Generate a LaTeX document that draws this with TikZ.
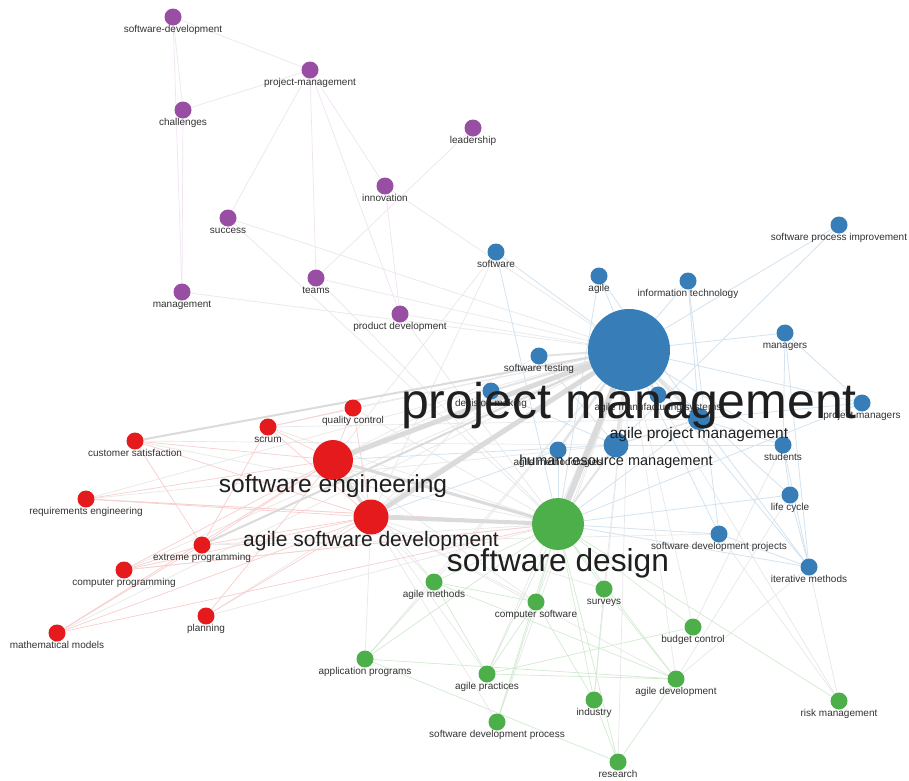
\documentclass[tikz,border=0pt]{standalone}
\usepackage{fontspec}
\setmainfont{Liberation Sans}
\definecolor{vred}{HTML}{E41A1C}
\definecolor{vblue}{HTML}{377EB8}
\definecolor{vgreen}{HTML}{4DAF4A}
\definecolor{vpurple}{HTML}{984EA3}
\pgfdeclarelayer{links}
\pgfsetlayers{links,main}
\tikzset{
  kw/.style = {circle, inner sep=0pt, minimum size=17pt},
  lbl/.style = {anchor=base, inner sep=0pt, text=black!80, font=\fontsize{10}{12}\selectfont},
  big/.style = {anchor=base, inner sep=0pt, text=black!88},
  lk/.style = {draw=black!9, line width=0.7pt},
  lkr/.style = {draw=vred!22, line width=0.7pt},
  lkb/.style = {draw=vblue!22, line width=0.8pt},
  lkg/.style = {draw=vgreen!25, line width=0.7pt},
  lkp/.style = {draw=vpurple!15, line width=0.7pt},
  lkw/.style = {draw=black!14, line width=#1},
  lkbw/.style = {draw=vblue!25!black!12, line width=#1}
}

\begin{document}
\begin{tikzpicture}[x=1pt, y=-1pt]
\useasboundingbox (0,0) rectangle (909,780);

\node[kw, fill=vblue, minimum size=82pt] (pm) at (629,350) {};
\node[kw, fill=vblue, minimum size=22pt] (apm) at (699,419) {};
\node[kw, fill=vblue, minimum size=25pt] (hrm) at (616,445) {};
\foreach \n/\x/\y in {sw/496/252, agl/599/276, it/688/281, spi/839/225, mgr/785/333,
  swt/539/356, dm/491/391, ams/658/395, pmr/862/403, agm/558/450, stu/783/445,
  lc/790/495, sdp/719/534, itm/809/567}
  \node[kw, fill=vblue] (\n) at (\x,\y) {};

\node[kw, fill=vred, minimum size=40pt] (se) at (333,460) {};
\node[kw, fill=vred, minimum size=35pt] (asd) at (371,517) {};
\foreach \n/\x/\y in {qc/353/408, scr/268/427, cs/135/441, re/86/499, xp/202/545,
  cp/124/570, pln/206/616, mm/57/633}
  \node[kw, fill=vred] (\n) at (\x,\y) {};

\node[kw, fill=vgreen, minimum size=52pt] (sd) at (558,524) {};
\foreach \n/\x/\y in {am/434/582, csw/536/602, srv/604/589, bc/693/627, ap/365/659,
  apr/487/674, adv/676/679, ind/594/700, sdpr/497/722, res/618/762, rm/839/701}
  \node[kw, fill=vgreen] (\n) at (\x,\y) {};

\foreach \n/\x/\y in {swd/173/17, prm/310/70, chl/183/110, ldr/473/128, inn/385/186,
  suc/228/218, tms/316/278, mgt/182/292, pd/400/314}
  \node[kw, fill=vpurple] (\n) at (\x,\y) {};

\begin{pgfonlayer}{links}
\fill[white] (0,0) rectangle (909,780);
\foreach \a/\b in {pm/qc, pm/scr, pm/cs, pm/re, pm/xp, pm/cp, pm/pln, pm/mm, pm/am,
  pm/csw, pm/srv, pm/bc, pm/ap, pm/apr, pm/adv, pm/ind, pm/sdpr, pm/res, pm/rm,
  pm/pd, pm/tms, pm/mgt, pm/suc, pm/inn, sd/qc, sd/scr, sd/cs, sd/re, sd/xp, sd/cp,
  sd/pln, sd/tms, sd/pd, sd/suc, se/am, se/csw, se/apr, asd/sdpr, asd/ap, asd/am,
  asd/csw, asd/srv, asd/adv, se/dm, se/swt, se/sw, asd/sw, asd/dm, cs/hrm, re/hrm,
  scr/apm, xp/sdp, itm/rm, sdp/rm, lc/adv, stu/bc, itm/adv}
  \draw[lk] (\a) -- (\b);
\foreach \a/\b in {se/qc, se/scr, se/cs, se/re, se/xp, se/cp, se/pln, se/mm, asd/qc,
  asd/scr, asd/cs, asd/re, asd/xp, asd/cp, asd/pln, asd/mm, cs/xp, scr/xp, xp/cp,
  mm/xp, scr/qc, re/sd, cp/sd, mm/sd}
  \draw[lkr] (\a) -- (\b);
\foreach \a/\b in {pm/sw, pm/agl, pm/it, pm/spi, pm/mgr, pm/pmr, pm/stu, pm/lc,
  pm/sdp, pm/itm, sw/sd, mgr/pmr, mgr/stu, mgr/itm, stu/lc, stu/itm, lc/itm, sdp/itm,
  apm/itm, apm/stu, it/apm, it/sdp, spi/hrm, agl/sd, agl/apm, apm/sd, agm/sd, sdp/sd,
  itm/sd, lc/sd, pmr/sd, agm/asd, hrm/se, stu/hrm, pmr/apm, dm/hrm, swt/hrm}
  \draw[lkb] (\a) -- (\b);
\foreach \a/\b in {sd/am, sd/csw, sd/srv, sd/bc, sd/ap, sd/apr, sd/adv, sd/ind,
  sd/sdpr, sd/res, sd/rm, am/ap, am/apr, am/adv, ap/adv, ap/res, srv/adv, adv/res,
  ind/res, ind/csw, apr/adv, csw/apr, bc/apr, csw/sdpr, srv/ind, am/csw}
  \draw[lkg] (\a) -- (\b);
\foreach \a/\b in {swd/prm, swd/chl, swd/mgt, chl/prm, chl/mgt, prm/suc, prm/tms,
  prm/inn, prm/pd, ldr/tms, inn/pd}
  \draw[lkp] (\a) -- (\b);
\foreach \a/\b/\w in {pm/se/5pt, pm/asd/5pt, pm/sd/6pt, se/asd/3pt, se/sd/3pt,
  asd/sd/4pt, pm/xp/2pt, pm/cs/2pt}
  \draw[lkw=\w] (\a) -- (\b);
\foreach \a/\b/\w in {pm/hrm/3pt, pm/apm/3pt, pm/dm/2pt, pm/swt/2pt, pm/agm/2.5pt,
  pm/ams/2pt, hrm/sd/2pt, apm/hrm/1.5pt}
  \draw[lkbw=\w] (\a) -- (\b);
\end{pgfonlayer}

\foreach \n/\t in {sw/software, agl/agile, it/information technology,
  spi/software process improvement, mgr/managers, swt/software testing,
  dm/decision making, ams/agile manufacturing systems, pmr/project managers,
  agm/agile methodologies, stu/students, lc/life cycle,
  sdp/software development projects, itm/iterative methods,
  qc/quality control, scr/scrum, cs/customer satisfaction,
  re/requirements engineering, xp/extreme programming, cp/computer programming,
  pln/planning, mm/mathematical models,
  am/agile methods, csw/computer software, srv/surveys, bc/budget control,
  ap/application programs, apr/agile practices, adv/agile development,
  ind/industry, sdpr/software development process, res/research,
  rm/risk management,
  swd/software-development, prm/project-management, chl/challenges,
  ldr/leadership, inn/innovation, suc/success, tms/teams, mgt/management,
  pd/product development}
  \node[lbl] at ([yshift=-15.5pt]\n.center) {\t};

\node[big, font=\fontsize{14.5}{17}\selectfont] at ([yshift=-20pt]hrm.center) {human resource management};
\node[big, font=\fontsize{15.5}{18}\selectfont] at ([yshift=-19pt]apm.center) {agile project management};
\node[big, font=\fontsize{21}{25}\selectfont] at ([yshift=-29pt]asd.center) {agile software development};
\node[big, font=\fontsize{24.6}{29}\selectfont] at ([yshift=-32pt]se.center) {software engineering};
\node[big, font=\fontsize{31.7}{37}\selectfont] at ([yshift=-47pt]sd.center) {software design};
\node[big, font=\fontsize{50}{58}\selectfont] at ([yshift=-68pt]pm.center) {project management};
\end{tikzpicture}
\end{document}
